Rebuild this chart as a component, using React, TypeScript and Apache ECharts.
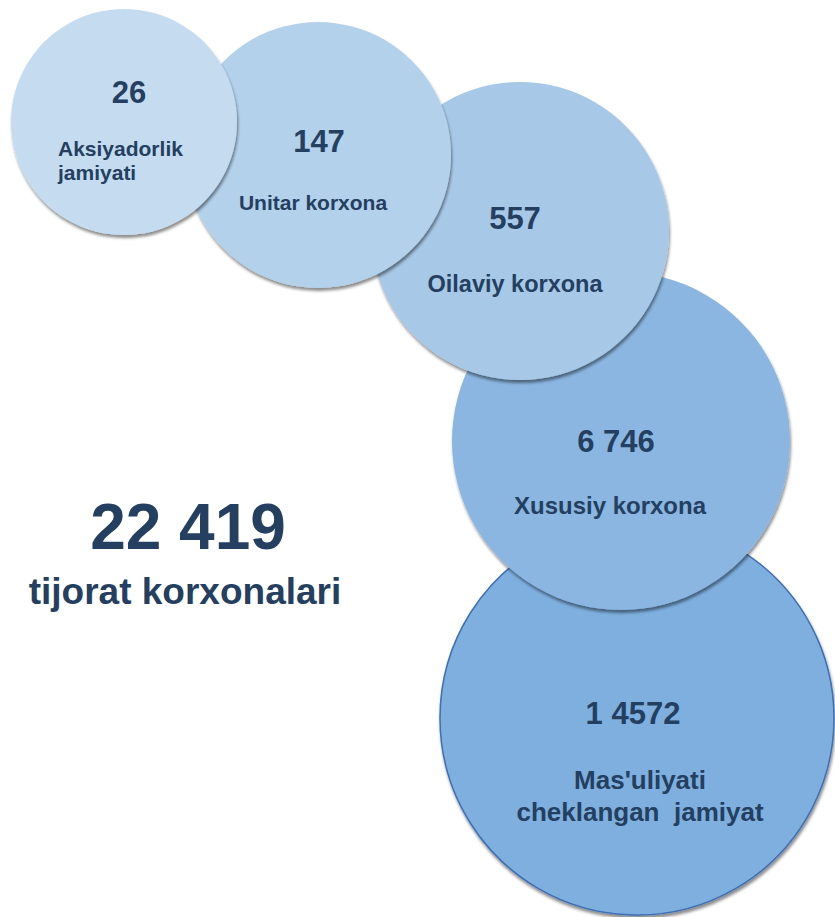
import React, { useEffect, useRef } from "react";
import * as echarts from "echarts";

// ---- data ----
const categories = [
  "Aksiyadorlik jamiyati",
  "Unitar korxona",
  "Oilaviy korxona",
  "Xususiy korxona",
  "Mas'uliyati cheklangan jamiyat",
];
const values = [26, 147, 557, 6746, 14572];
const valueLabels = ["26", "147", "557", "6 746", "1 4572"];
const nameLabels = [
  "Aksiyadorlik\njamiyati",
  "Unitar korxona",
  "Oilaviy korxona",
  "Xususiy korxona",
  "Mas'uliyati\ncheklangan  jamiyat",
];
const totalLabel = "22 419";
const totalCaption = "tijorat korxonalari";

// ---- layout (pixel positions on hidden axes) ----
const W = 835;
const H = 917;
const bubbleLayout = [
  { cx: 124, cy: 122, r: 113, color: "#c5dcf0", numX: 129, numY: 92, nameX: 58, nameY: 160, nameSize: 21, nameAlign: "left", lineHeight: 24 },
  { cx: 318, cy: 155, r: 133, color: "#b3d1eb", numX: 319, numY: 141, nameX: 313, nameY: 202, nameSize: 21, nameAlign: "center", lineHeight: 24 },
  { cx: 520, cy: 231, r: 149, color: "#a7c8e7", numX: 515, numY: 218, nameX: 515, nameY: 284, nameSize: 23.5, nameAlign: "center", lineHeight: 26 },
  { cx: 621, cy: 441, r: 169, color: "#8bb6e1", numX: 616, numY: 441, nameX: 610, nameY: 505, nameSize: 24, nameAlign: "center", lineHeight: 28 },
  { cx: 637, cy: 718, r: 197, color: "#7eafdf", numX: 633, numY: 713, nameX: 640, nameY: 796, nameSize: 26, nameAlign: "center", lineHeight: 32 },
];
const TEXT = "#243f60";
const FONT = "'Liberation Sans', Arial, sans-serif";

export default function App() {
  const ref = useRef<HTMLDivElement>(null);
  useEffect(() => {
    document.body.style.margin = "0";
    if (!ref.current) return;
    const chart = echarts.init(ref.current, undefined, { renderer: "svg" });
    const order = categories.map((_, i) => i).reverse(); // largest drawn first
    const circleData = order.map((i) => ({
      name: categories[i],
      value: [bubbleLayout[i].cx, bubbleLayout[i].cy, values[i]],
      symbolSize: bubbleLayout[i].r * 2,
      itemStyle: {
        color: bubbleLayout[i].color,
        borderColor: i === 4 ? "#3e6fb4" : "transparent",
        borderWidth: i === 4 ? 1.5 : 0,
      },
    }));
    const numData = categories.map((c, i) => ({
      name: c,
      value: [bubbleLayout[i].numX, bubbleLayout[i].numY, values[i]],
      label: { formatter: valueLabels[i] },
    }));
    const nameData = categories.map((c, i) => ({
      name: c,
      value: [bubbleLayout[i].nameX, bubbleLayout[i].nameY, values[i]],
      label: {
        formatter: nameLabels[i],
        fontSize: bubbleLayout[i].nameSize,
        lineHeight: bubbleLayout[i].lineHeight,
        align: bubbleLayout[i].nameAlign,
      },
    }));
    const labelBase = {
      show: true,
      position: "inside",
      color: TEXT,
      fontFamily: FONT,
      fontWeight: "bold",
      verticalAlign: "middle",
      textBorderWidth: 0,
      textShadowBlur: 0,
      opacity: 1,
    };
    chart.setOption({
      animation: false,
      grid: { left: 0, top: 0, width: W, height: H },
      xAxis: { type: "value", min: 0, max: W, show: false },
      yAxis: { type: "value", min: 0, max: H, inverse: true, show: false },
      series: [
        {
          type: "scatter",
          z: 2,
          symbol: "circle",
          data: circleData,
          itemStyle: {
            opacity: 1,
            shadowBlur: 3,
            shadowOffsetX: 1,
            shadowOffsetY: 3,
            shadowColor: "rgba(0,0,0,0.45)",
          },
          emphasis: { disabled: true },
          silent: true,
        },
        {
          type: "scatter",
          z: 3,
          symbolSize: 0,
          data: numData,
          silent: true,
          itemStyle: { opacity: 1 },
          label: { ...labelBase, fontSize: 31, align: "center" },
        },
        {
          type: "scatter",
          z: 3,
          symbolSize: 0,
          data: nameData,
          silent: true,
          itemStyle: { opacity: 1 },
          label: { ...labelBase },
        },
      ],
      graphic: [
        {
          type: "text",
          x: 188,
          y: 527,
          style: {
            text: totalLabel,
            fill: TEXT,
            font: `bold 64px ${FONT}`,
            align: "center",
            verticalAlign: "middle",
          },
        },
        {
          type: "text",
          x: 185,
          y: 591,
          style: {
            text: totalCaption,
            fill: TEXT,
            font: `bold 37px ${FONT}`,
            align: "center",
            verticalAlign: "middle",
          },
        },
      ],
    });
    return () => chart.dispose();
  }, []);
  return <div ref={ref} style={{ width: W, height: H }} />;
}
